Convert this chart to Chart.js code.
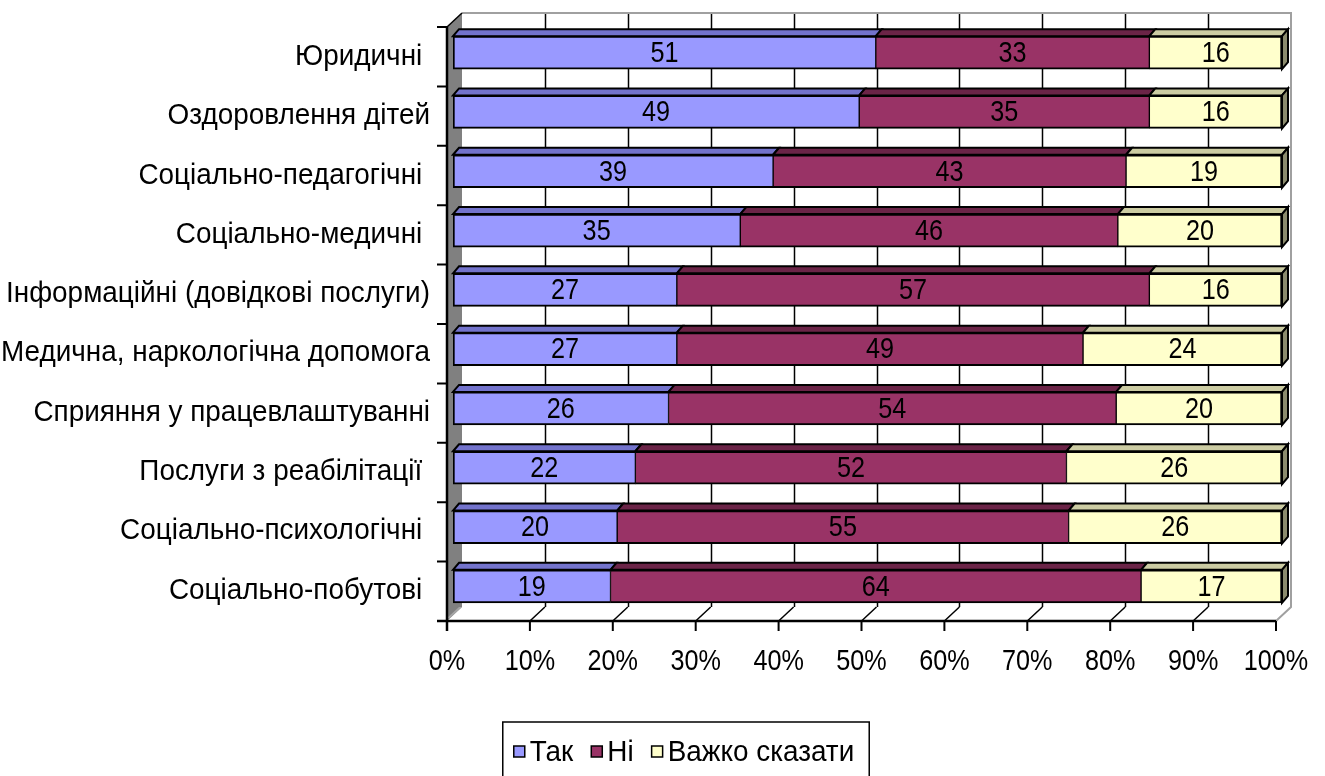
<!DOCTYPE html>
<html>
<head>
<meta charset="utf-8">
<script src="https://cdn.jsdelivr.net/npm/chart.js@4.4.1/dist/chart.umd.min.js"></script>
<style>
  html, body { margin: 0; padding: 0; background: #fff; }
</style>
</head>
<body>
<canvas id="myChart" width="1325" height="776"></canvas>
<script>
const categories = [
  "Юридичні ",
  "Оздоровлення дітей",
  "Соціально-педагогічні ",
  "Соціально-медичні ",
  "Інформаційні (довідкові послуги)",
  "Медична, наркологічна допомога",
  "Сприяння у працевлаштуванні",
  "Послуги з реабілітації ",
  "Соціально-психологічні ",
  "Соціально-побутові "
];
const seriesNames = ["Так", "Ні", "Важко сказати"];
const yesValues  = [51, 49, 39, 35, 27, 27, 26, 22, 20, 19];
const noValues   = [33, 35, 43, 46, 57, 49, 54, 52, 55, 64];
const hardValues = [16, 16, 19, 20, 16, 24, 20, 26, 26, 17];

const FONT = '"Liberation Sans", Arial, sans-serif';
const fills = ["#9999FF", "#993366", "#FFFFCC"];
const tops  = ["#7373CC", "#6B2447", "#CCCCA3"];
const sideColor = "#8C8C6E";

// 100% stacked: each row is scaled to its own total
const raw = [yesValues, noValues, hardValues];
const totals = categories.map((_, i) => raw.reduce((s, arr) => s + arr[i], 0));
const pct = raw.map(arr => arr.map((v, i) => v / totals[i] * 100));

const WALL_DX = 15, WALL_DY = -14;
const BAR_DX = 6, BAR_DY = -7;
const FRONT_DX = -6, FRONT_DY = 4;

// the original uses a narrow face; squeeze text horizontally around its anchor
const squeeze = t => (/^[\d%]+$/.test(String(t)) ? 0.84 : 0.93);
function narrowText(c) {
  const fill = c.fillText;
  const measure = c.measureText;
  c.fillText = function (text, x, y) {
    this.save();
    this.translate(x, y);
    this.scale(squeeze(text), 1);
    fill.call(this, text, 0, 0);
    this.restore();
  };
  c.measureText = function (text) {
    const m = measure.call(this, text);
    const k = squeeze(text);
    return {
      width: m.width * k,
      actualBoundingBoxLeft: m.actualBoundingBoxLeft * k,
      actualBoundingBoxRight: m.actualBoundingBoxRight * k,
      actualBoundingBoxAscent: m.actualBoundingBoxAscent,
      actualBoundingBoxDescent: m.actualBoundingBoxDescent
    };
  };
}

const frame3d = {
  id: "frame3d",
  beforeDatasetsDraw(chart) {
    const { ctx, chartArea, scales } = chart;
    const xs = scales.x;
    const fx = v => xs.getPixelForValue(v) + FRONT_DX;
    const top = chartArea.top + FRONT_DY;
    const bot = chartArea.bottom + FRONT_DY + 1;
    const x0 = fx(0), x1 = fx(100);
    ctx.save();

    // back wall
    ctx.fillStyle = "#fff";
    ctx.fillRect(x0 + WALL_DX, top + WALL_DY, x1 - x0, bot - top);
    ctx.strokeStyle = "#000";
    ctx.lineWidth = 1.5;
    for (let v = 10; v < 100; v += 10) {
      const gx = Math.round(fx(v) + WALL_DX) + 0.5;
      ctx.beginPath();
      ctx.moveTo(gx, top + WALL_DY);
      ctx.lineTo(gx, bot + WALL_DY);
      ctx.stroke();
    }
    ctx.strokeStyle = "#A0A0A0";
    ctx.lineWidth = 2;
    ctx.beginPath();
    ctx.moveTo(x0 + WALL_DX, top + WALL_DY);
    ctx.lineTo(x1 + WALL_DX, top + WALL_DY);
    ctx.lineTo(x1 + WALL_DX, bot + WALL_DY);
    ctx.lineTo(x1, bot);
    ctx.stroke();

    // floor grid diagonals
    ctx.strokeStyle = "#000";
    ctx.lineWidth = 1.5;
    for (let v = 10; v < 100; v += 10) {
      ctx.beginPath();
      ctx.moveTo(fx(v), bot);
      ctx.lineTo(fx(v) + WALL_DX, bot + WALL_DY);
      ctx.stroke();
    }

    // left wall
    ctx.fillStyle = "#808080";
    ctx.beginPath();
    ctx.moveTo(x0, top);
    ctx.lineTo(x0 + WALL_DX, top + WALL_DY);
    ctx.lineTo(x0 + WALL_DX, bot + WALL_DY);
    ctx.lineTo(x0, bot);
    ctx.closePath();
    ctx.fill();
    ctx.fillStyle = "#A6A6A6";
    ctx.beginPath();
    ctx.moveTo(x0 + 3, bot - 3);
    ctx.lineTo(x0 + WALL_DX, bot + WALL_DY);
    ctx.lineTo(x0 + WALL_DX - 3, bot + WALL_DY);
    ctx.lineTo(x0, bot - 3);
    ctx.closePath();
    ctx.fill();
    ctx.strokeStyle = "#000";
    ctx.lineWidth = 1.5;
    ctx.beginPath();
    ctx.moveTo(x0, top);
    ctx.lineTo(x0 + WALL_DX, top + WALL_DY);
    ctx.stroke();

    // front axes
    ctx.lineWidth = 2.5;
    ctx.beginPath();
    ctx.moveTo(x0, top);
    ctx.lineTo(x0, bot + 10);
    ctx.moveTo(x0 - 10, bot);
    ctx.lineTo(x1, bot);
    ctx.stroke();
    ctx.lineWidth = 2;
    ctx.beginPath();
    for (let v = 10; v <= 100; v += 10) {
      ctx.moveTo(fx(v), bot);
      ctx.lineTo(fx(v), bot + 10);
    }
    for (let k = 0; k < categories.length; k++) {
      const ty = top + k * (bot - top) / categories.length;
      ctx.moveTo(x0 - 10, ty);
      ctx.lineTo(x0, ty);
    }
    ctx.stroke();

    // bar top faces and end side
    chart.data.datasets.forEach((ds, di) => {
      const meta = chart.getDatasetMeta(di);
      meta.data.forEach(el => {
        const l = Math.min(el.x, el.base), r = Math.max(el.x, el.base);
        const yT = el.y - el.height / 2, yB = el.y + el.height / 2;
        ctx.fillStyle = tops[di];
        ctx.strokeStyle = "#000";
        ctx.lineWidth = 2;
        ctx.beginPath();
        ctx.moveTo(l, yT);
        ctx.lineTo(l + BAR_DX, yT + BAR_DY);
        ctx.lineTo(r + BAR_DX, yT + BAR_DY);
        ctx.lineTo(r, yT);
        ctx.closePath();
        ctx.fill();
        ctx.stroke();
        if (di === chart.data.datasets.length - 1) {
          ctx.fillStyle = sideColor;
          ctx.beginPath();
          ctx.moveTo(r, yT);
          ctx.lineTo(r + BAR_DX, yT + BAR_DY);
          ctx.lineTo(r + BAR_DX, yB + BAR_DY);
          ctx.lineTo(r, yB);
          ctx.closePath();
          ctx.fill();
          ctx.stroke();
        }
      });
    });
    ctx.restore();
  },
  afterDatasetsDraw(chart) {
    const { ctx } = chart;
    ctx.save();
    ctx.font = "30px " + FONT;
    ctx.fillStyle = "#000";
    ctx.textAlign = "center";
    ctx.textBaseline = "middle";
    chart.data.datasets.forEach((ds, di) => {
      chart.getDatasetMeta(di).data.forEach((el, i) => {
        ctx.fillText(String(raw[di][i]), (el.x + el.base) / 2, el.y + 1);
      });
    });
    ctx.restore();
  },
  afterDraw(chart) {
    // legend box
    const { ctx } = chart;
    ctx.save();
    ctx.font = "30px " + FONT;
    const box = 11, gapText = 5, gapItem = 18;
    const widths = seriesNames.map(n => ctx.measureText(n).width);
    const content = widths.reduce((s, w) => s + box + gapText + w, 0) + gapItem * (seriesNames.length - 1);
    const cx = 683;
    let x = cx - content / 2 + 1;
    const cy = 752;
    ctx.strokeStyle = "#000";
    ctx.lineWidth = 1.5;
    ctx.strokeRect(x - 11, 722, content + 26, 60);
    ctx.textBaseline = "middle";
    ctx.textAlign = "left";
    seriesNames.forEach((n, i) => {
      ctx.fillStyle = fills[i];
      ctx.fillRect(x, cy - 6, box, box);
      ctx.lineWidth = 1.5;
      ctx.strokeRect(x, cy - 6, box, box);
      ctx.fillStyle = "#000";
      ctx.fillText(n, x + box + gapText, cy + 1);
      x += box + gapText + widths[i] + gapItem;
    });
    ctx.restore();
  }
};

const ctx = document.getElementById("myChart").getContext("2d");
narrowText(ctx);
new Chart(ctx, {
  type: "bar",
  data: {
    labels: categories,
    datasets: seriesNames.map((name, i) => ({
      label: name,
      data: pct[i],
      backgroundColor: fills[i],
      borderColor: "#000",
      borderWidth: {
        top: 2, bottom: 2,
        left: i === 0 ? 2 : 1,
        right: i === seriesNames.length - 1 ? 2 : 1
      },
      borderSkipped: false,
      barThickness: 33
    }))
  },
  options: {
    indexAxis: "y",
    responsive: false,
    animation: false,
    devicePixelRatio: 1,
    layout: { padding: { left: 0, right: 43, top: 23, bottom: 0 } },
    plugins: {
      legend: { display: false },
      tooltip: { enabled: false }
    },
    scales: {
      x: {
        stacked: true,
        min: 0,
        max: 100,
        border: { display: false },
        grid: { display: false, drawTicks: false },
        ticks: {
          stepSize: 10,
          padding: 28,
          labelOffset: -6,
          color: "#000",
          font: { family: FONT, size: 30 },
          maxRotation: 0,
          callback: v => v + "%"
        },
        afterFit: s => { s.height = 160; s.paddingLeft = 0; s.paddingRight = 0; }
      },
      y: {
        stacked: true,
        border: { display: false },
        grid: { display: false, drawTicks: false },
        ticks: {
          padding: 23,
          labelOffset: 4,
          color: "#000",
          font: { family: FONT, size: 30 }
        },
        afterFit: s => { s.width = 453; s.paddingTop = 0; s.paddingBottom = 0; }
      }
    }
  },
  plugins: [frame3d]
});
</script>
</body>
</html>
